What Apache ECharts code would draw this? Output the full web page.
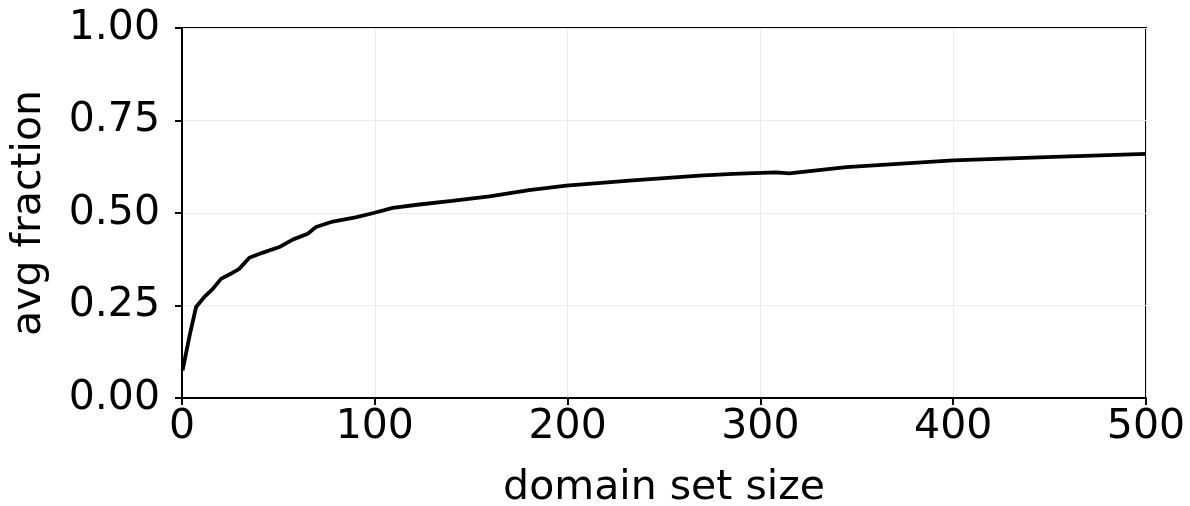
<!DOCTYPE html>
<html>
<head>
<meta charset="utf-8">
<script src="https://cdn.jsdelivr.net/npm/echarts@6/dist/echarts.min.js"></script>
<style>html,body{margin:0;padding:0;background:#fff}#c{width:1190px;height:506px}</style>
</head>
<body>
<div id="c"></div>
<script>
const xValues = [0.3, 4, 7.3, 11.6, 16, 20.2, 25, 29.7, 34.9, 42, 50.5, 57.4, 65.2, 69.5, 78.2, 90, 99.4, 109.3, 123.1, 140, 159.5, 180, 199.3, 233.8, 268.4, 285.7, 308, 315, 344.6, 400, 448.4, 500];
const yValues = [0.075, 0.17, 0.246, 0.273, 0.295, 0.322, 0.335, 0.349, 0.379, 0.393, 0.408, 0.428, 0.444, 0.462, 0.477, 0.488, 0.50, 0.514, 0.523, 0.533, 0.545, 0.562, 0.574, 0.588, 0.601, 0.606, 0.610, 0.607, 0.624, 0.642, 0.651, 0.660];
const xTicks = [0, 100, 200, 300, 400, 500];
const yTicks = ['0.00', '0.25', '0.50', '0.75', '1.00'];
const xLabel = 'domain set size';
const yLabel = 'avg fraction';

const font = 'DejaVu Sans';
const chart = echarts.init(document.getElementById('c'), null, {renderer: 'canvas'});
chart.setOption({
  animation: false,
  backgroundColor: '#fff',
  grid: {left: 182, right: 44, top: 28, bottom: 108, show: true, borderColor: '#000', borderWidth: 2, backgroundColor: 'transparent', containLabel: false, outerBoundsMode: 'none'},
  xAxis: {
    type: 'value', min: xTicks[0], max: xTicks[xTicks.length - 1], interval: 100,
    name: xLabel, nameLocation: 'middle', nameGap: 70,
    nameTextStyle: {fontFamily: font, fontSize: 41, color: '#000'},
    axisLine: {show: true, lineStyle: {color: '#000', width: 2}},
    axisTick: {show: true, length: 7, lineStyle: {color: '#000', width: 2}},
    axisLabel: {fontFamily: font, fontSize: 41, color: '#000', margin: 9},
    splitLine: {show: true, lineStyle: {color: '#ebebeb', width: 1}}
  },
  yAxis: {
    type: 'value', min: 0, max: 1, interval: 0.25,
    name: yLabel, nameLocation: 'middle', nameGap: 132,
    nameTextStyle: {fontFamily: font, fontSize: 41, color: '#000'},
    axisLine: {show: true, lineStyle: {color: '#000', width: 2}},
    axisTick: {show: true, length: 7, lineStyle: {color: '#000', width: 2}},
    axisLabel: {fontFamily: font, fontSize: 41, color: '#000', margin: 22,
      formatter: v => yTicks[Math.round(v / 0.25)]},
    splitLine: {show: true, lineStyle: {color: '#ebebeb', width: 1}}
  },
  series: [{
    type: 'line',
    data: xValues.map((x, i) => [x, yValues[i]]),
    showSymbol: false,
    lineStyle: {color: '#000', width: 3.8},
    clip: true
  }]
});
</script>
</body>
</html>
